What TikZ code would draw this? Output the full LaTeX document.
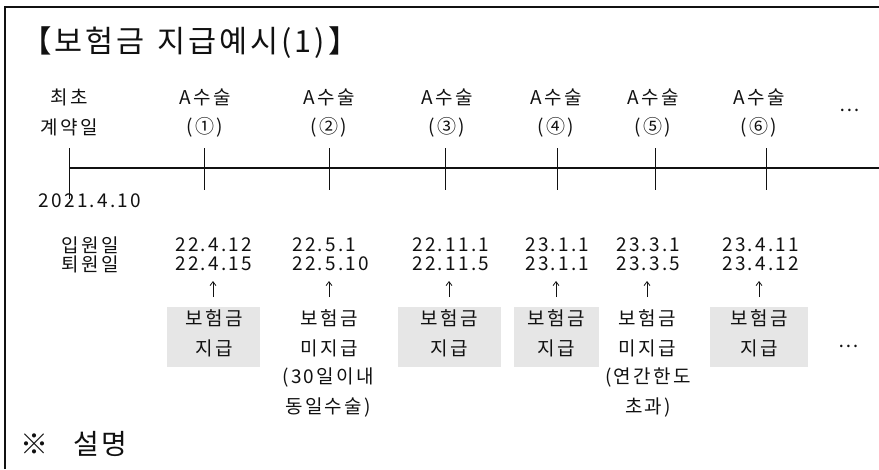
\documentclass[tikz,border=0pt]{standalone}
\usepackage{fontspec}
\setmainfont{Noto Sans CJK KR}
\newfontfamily\labfont[LetterSpace=12]{Noto Sans CJK KR}
\newfontfamily\titfont[LetterSpace=10]{Noto Sans CJK KR}
\usetikzlibrary{arrows.meta}
\definecolor{ink}{HTML}{111111}
\definecolor{boxgray}{HTML}{E6E6E6}
\begin{document}
\begin{tikzpicture}[x=1pt,y=-1pt,
  lab/.style={font=\labfont\fontsize{19}{22}\selectfont, inner sep=0pt, text=ink},
  datel/.style={lab, anchor=west},
  ttl/.style={font=\titfont\fontsize{30.5}{32}\selectfont, inner sep=0pt, text=ink, anchor=west},
  note/.style={font=\titfont\fontsize{28}{30}\selectfont, inner sep=0pt, text=ink, anchor=west},
  paybox/.style={fill=boxgray, draw=none, inner sep=0pt, minimum height=60pt},
  tickline/.style={line width=0.9pt, draw=ink},
  axis/.style={line width=1.5pt, draw=ink},
  uparrow/.style={line width=0.8pt, draw=ink, -{Straight Barb[length=4pt,width=6pt]}},
  frame/.style={line width=1.5pt, draw=ink}
]
\useasboundingbox (0,0) rectangle (879,469);
% frame
\draw[frame] (5,469) -- (5,7) -- (879,7);
% title
\node[ttl] (title) at (21,43) {【보험금\hspace{0.4em}지급예시(1)】};
% header labels
\node[lab] (h0a) at (69,97) {최초};
\node[lab] (h0b) at (69,127) {계약일};
\node[lab] (h1a) at (205,97) {A수술};
\node[lab] (h1b) at (205,127) {(①)};
\node[lab] (h2a) at (329,97) {A수술};
\node[lab] (h2b) at (329,127) {(②)};
\node[lab] (h3a) at (447,97) {A수술};
\node[lab] (h3b) at (447,127) {(③)};
\node[lab] (h4a) at (556,97) {A수술};
\node[lab] (h4b) at (556,127) {(④)};
\node[lab] (h5a) at (653,97) {A수술};
\node[lab] (h5b) at (653,127) {(⑤)};
\node[lab] (h6a) at (759,97) {A수술};
\node[lab] (h6b) at (759,127) {(⑥)};
\node[lab] (hdots) at (850,110) {…};
% timeline
\coordinate (t0) at (69.5,168);
\coordinate (t1) at (204,168);
\coordinate (t2) at (329,168);
\coordinate (t3) at (445,168);
\coordinate (t4) at (557,168);
\coordinate (t5) at (655,168);
\coordinate (t6) at (766,168);
\coordinate (tend) at (879,168);
\draw[axis] (t0) -- (tend);
\draw[tickline] (t0) ++(0,-20) -- ++(0,51);
\foreach \t in {t1,t2,t3,t4,t5,t6}{
  \draw[tickline] (\t) ++(0,-20) -- ++(0,42);
}
\node[lab] (start) at (90,201) {2021.4.10};
% admission / discharge
\node[lab] (in) at (90,245) {입원일};
\node[lab] (out) at (90,264) {퇴원일};
\node[datel] (d1a) at (175,245) {22.4.12};
\node[datel] (d1b) at (175,264) {22.4.15};
\node[datel] (d2a) at (292,245) {22.5.1};
\node[datel] (d2b) at (292,264) {22.5.10};
\node[datel] (d3a) at (412,245) {22.11.1};
\node[datel] (d3b) at (412,264) {22.11.5};
\node[datel] (d4a) at (525,245) {23.1.1};
\node[datel] (d4b) at (525,264) {23.1.1};
\node[datel] (d5a) at (616,245) {23.3.1};
\node[datel] (d5b) at (616,264) {23.3.5};
\node[datel] (d6a) at (722,245) {23.4.11};
\node[datel] (d6b) at (722,264) {23.4.12};
% arrows
\foreach \i/\x in {1/213,2/329,3/449,4/556,5/647,6/759}{
  \coordinate (ah\i) at (\x,281);
  \coordinate (at\i) at (\x,297);
  \draw[uparrow] (at\i) -- (ah\i);
}
% paid boxes
\node[paybox, minimum width=93pt] (b1) at (213.5,337) {};
\node[paybox, minimum width=103pt] (b3) at (449.5,337) {};
\node[paybox, minimum width=85pt] (b4) at (556.5,337) {};
\node[paybox, minimum width=98pt] (b6) at (759,337) {};
\node[lab] (b1t) at (214,318) {보험금};
\node[lab] (b1u) at (214,348) {지급};
\node[lab] (b3t) at (449,318) {보험금};
\node[lab] (b3u) at (449,348) {지급};
\node[lab] (b4t) at (556,318) {보험금};
\node[lab] (b4u) at (556,348) {지급};
\node[lab] (b6t) at (759,318) {보험금};
\node[lab] (b6u) at (759,348) {지급};
% unpaid
\node[lab] (u2a) at (329,318) {보험금};
\node[lab] (u2b) at (329,348) {미지급};
\node[lab] (u2c) at (328,377) {(30일이내};
\node[lab] (u2d) at (328,407) {동일수술)};
\node[lab] (u5a) at (647,318) {보험금};
\node[lab] (u5b) at (647,348) {미지급};
\node[lab] (u5c) at (648,377) {(연간한도};
\node[lab] (u5d) at (648,407) {초과)};
\node[lab] (bdots) at (849,346) {…};
% note
\node[note] (notes) at (20,444) {※\hspace{0.9em}설명};
\end{tikzpicture}
\end{document}
